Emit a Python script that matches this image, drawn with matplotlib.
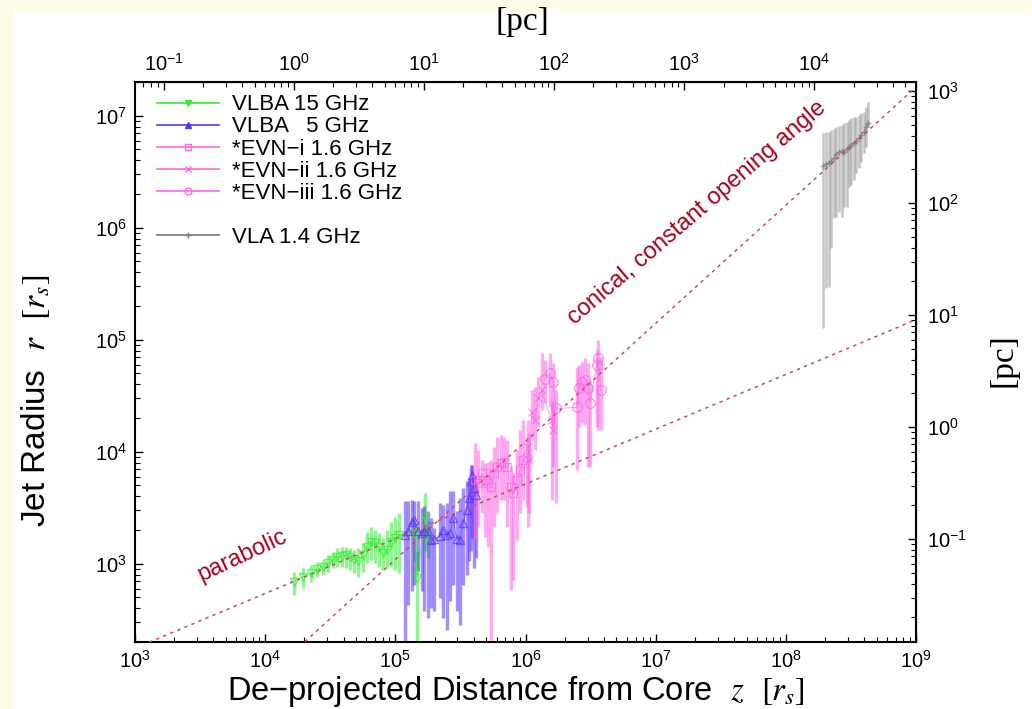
import numpy as np
import matplotlib
matplotlib.use('Agg')
import matplotlib.pyplot as plt
from matplotlib.patches import Rectangle
from matplotlib.lines import Line2D

plt.rcParams['font.family'] = ['Liberation Sans', 'DejaVu Sans']
plt.rcParams['mathtext.fontset'] = 'stix'

PC_IN_RS = 1.66e4

# ---------------- data ----------------
# VLBA 15 GHz
z15 = [16600, 19400, 22400, 25100, 27600, 30200, 33000, 35800, 38700, 41800, 44800, 48100,
       51900, 56100, 60200, 64600, 69700, 75300, 80800, 86700, 92500, 99300, 107000,
       141000, 147000, 169000, 177000]
r15 = [690, 764, 818, 889, 940, 1005, 1077, 1138, 1170, 1194, 1153, 1092, 1062, 1194, 1416,
       1570, 1517, 1416, 1236, 1322, 1570, 1683, 1799, 1845, 746, 2614, 1698]
r15_hi = [847, 908, 973, 1040, 1077, 1194, 1279, 1368, 1416, 1416, 1368, 1322, 1368, 1517, 1928,
          2138, 1995, 1862, 1683, 1995, 2366, 2624, 2812, 2234, 1291, 4285, 2393]
r15_lo = [525, 601, 690, 764, 791, 847, 908, 940, 940, 908, 877, 818, 764, 847, 1005, 1077, 1005,
          940, 877, 908, 940, 877, 818, 1050, 150, 1291, 1125]

# VLBA 5 GHz
z5 = [118600, 125600, 133300, 139700, 150000, 159200, 166800, 177000, 187700, 199000, 220000,
      233000, 247600, 262400, 278600, 295200, 313400, 332500, 352600, 367400, 380900, 390000,
      403600, 413300]
r5 = [1795, 1946, 2362, 2473, 1946, 1880, 1973, 1946, 1641, 1675, 1758, 2014, 1820, 1880, 2560,
      1675, 1641, 2312, 3041, 3862, 5445, 6237, 4742, 4140]
r5_hi = [3606, 3606, 3733, 3606, 3606, 3148, 3258, 2941, 2560, 2084, 3484, 3367, 3484, 4426, 4426,
         2941, 3862, 4742, 5445, 5834, 7674, 7674, 6237, 5445]
r5_lo = [190, 431, 568, 651, 855, 568, 376, 328, 403, 376, 494, 328, 258, 461, 651, 376, 286, 651,
         798, 1050, 1291, 1698, 916, 1125]

# EVN-i 1.6 GHz
zi = [408600, 433500, 460200, 487800, 517600, 539500, 571500, 606600, 644200, 682300, 724400,
      767400, 805400, 853100, 905700, 961600, 1019000]
ri = [5585, 5212, 6397, 5585, 5212, 4864, 6397, 7345, 7852, 8128, 7345, 4864, 4236, 5585, 6855,
      8414, 9016]
ri_hi = [11860, 10330, 8414, 7852, 8128, 8414, 11070, 13590, 14060, 13590, 12700, 7345, 6397,
         10330, 15600, 19140, 13590]
ri_lo = [1626, 2138, 2812, 1742, 1416, 150, 2138, 2812, 3698, 3698, 2138, 581, 714, 1626, 2812,
         3698, 3222]

# EVN-ii 1.6 GHz
zii = [1050000, 1069000, 1114000, 1180000, 1253000, 1330000, 1585000, 1633000]
rii = [11070, 8414, 22750, 19140, 29920, 35480, 19140, 15600]
rii_hi = [19140, 14550, 35480, 38020, 46700, 75340, 28910, 25180]
rii_lo = [2138, 2812, 12700, 10330, 16700, 23490, 3698, 7345]

# EVN-iii 1.6 GHz
ziii = [1410000, 1539000, 1633000, 1714000, 2466000, 2570000, 2698000, 2860000, 3034000,
        3126000, 3519000, 3624000, 3797000]
riii = [44170, 50020, 42100, 24320, 24830, 36730, 42100, 43560, 36730, 27350, 59330, 68080, 35480]
riii_hi = [65750, 75340, 61360, 35480, 57280, 59330, 63530, 68080, 61360, 43560, 80720, 99200,
           70470]
riii_lo = [26980, 25180, 16700, 3451, 6855, 16700, 17870, 17270, 7345, 7345, 16700, 15600, 15600]

# VLA 1.4 GHz
zvla = [1.94e8, 2.03e8, 2.14e8, 2.24e8, 2.34e8, 2.45e8, 2.57e8, 2.68e8, 2.79e8, 2.93e8, 3.07e8,
        3.19e8, 3.33e8, 3.49e8, 3.64e8, 3.79e8, 3.97e8, 4.12e8, 4.29e8]
rvla = [3.55e6, 3.70e6, 3.80e6, 3.94e6, 4.16e6, 4.54e6, 4.76e6, 4.86e6, 4.76e6, 5.00e6, 5.28e6,
        5.47e6, 5.65e6, 5.97e6, 6.26e6, 6.71e6, 7.20e6, 7.96e6, 8.53e6]
rvla_hi = [7.05e6, 7.20e6, 7.20e6, 7.45e6, 7.55e6, 7.96e6, 8.07e6, 8.24e6, 8.53e6, 8.83e6, 9.14e6,
           9.46e6, 9.79e6, 9.79e6, 1.01e7, 1.05e7, 1.08e7, 1.20e7, 1.33e7]
rvla_lo = [1.26e5, 2.87e5, 2.97e5, 6.53e5, 1.21e6, 1.25e6, 1.39e6, 1.25e6, 1.54e6, 1.54e6, 2.32e6,
           2.40e6, 2.66e6, 3.05e6, 3.38e6, 3.88e6, 4.60e6, 5.28e6, 7.96e6]

# model lines (end points)
parab_z = [1e3, 1e9]
parab_r = [176, 1.51e5]
conic_z = [1e4, 1e9]
conic_r = [96, 1.8e7]

# axis tick values
x_ticks = [1e3, 1e4, 1e5, 1e6, 1e7, 1e8, 1e9]
y_ticks = [1e3, 1e4, 1e5, 1e6, 1e7]
pc_top_ticks = [1e-1, 1e0, 1e1, 1e2, 1e3, 1e4]
pc_right_ticks = [1e-1, 1e0, 1e1, 1e2, 1e3]

# ---------------- figure ----------------
fig = plt.figure(figsize=(10.32, 7.09), dpi=100, facecolor='#fefce6')
fig.patches.append(Rectangle((14 / 1032, 0), 1, 1 - 11 / 709, transform=fig.transFigure,
                             facecolor='white', edgecolor='none', zorder=-10))
ax = fig.add_axes([135 / 1032, 1 - 642 / 709, 781 / 1032, 560 / 709])
ax.set_xscale('log')
ax.set_yscale('log')
ax.set_xlim(1e3, 1e9)
ax.set_ylim(200, 2e7)
ax.set_xticks(x_ticks)
ax.set_yticks(y_ticks)

line_red = '#d04a58'
ax.plot(parab_z, parab_r, color=line_red, lw=1.1, ls=(0, (2.2, 2.8)), zorder=5)
ax.plot(conic_z, conic_r, color=line_red, lw=1.1, ls=(0, (2.2, 2.8)), zorder=5)


def series(z, r, lo, hi, color, marker, ms, label, ealpha=0.55, elw=2.4):
    z = np.array(z, float); r = np.array(r, float)
    lo = np.array(lo, float); hi = np.array(hi, float)
    ax.errorbar(z, r, yerr=[r - lo, hi - r], fmt='none', ecolor=color, elinewidth=elw,
                alpha=ealpha, capsize=0, zorder=2)
    ax.plot(z, r, ls='-', lw=0.6, color=color, alpha=0.7, marker=marker, ms=ms,
            mfc='none', mec=color, mew=1.0, zorder=3)
    return Line2D([], [], color=color, lw=1.2, marker=marker, ms=5,
                  mfc=color if marker in ('v', '^') else 'none', mec=color, label=label)


GREEN = '#33ee33'
BLUE = '#5a33ff'
PINK = '#ff66e6'
GREY = '#7a7a7a'

h1 = series(z15, r15, r15_lo, r15_hi, GREEN, 'v', 6, 'VLBA 15 GHz')
h2 = series(z5, r5, r5_lo, r5_hi, BLUE, '^', 6, 'VLBA   5 GHz')
h3 = series(zi, ri, ri_lo, ri_hi, PINK, 's', 6, '*EVN\u2212i 1.6 GHz')
h4 = series(zii, rii, rii_lo, rii_hi, PINK, 'x', 6, '*EVN\u2212ii 1.6 GHz')
h5 = series(ziii, riii, riii_lo, riii_hi, PINK, 'o', 7, '*EVN\u2212iii 1.6 GHz')
h6 = series(zvla, rvla, rvla_lo, rvla_hi, GREY, '+', 5, 'VLA 1.4 GHz', ealpha=0.45, elw=1.8)
blank = Line2D([], [], color='none', label=' ')

leg = ax.legend(handles=[h1, h2, h3, h4, h5, blank, h6], loc='upper left',
                bbox_to_anchor=(0.028, 0.978), frameon=False, fontsize=16,
                handlelength=2.8, handletextpad=0.6, labelspacing=0.05, borderpad=0,
                borderaxespad=0)

# annotations
ax.text(6.7e3, 1170, 'parabolic', color='#a8001e', fontsize=17, rotation=25,
        ha='center', va='center')
ax.text(2.07e7, 1.35e6, 'conical, constant opening angle', color='#a8001e', fontsize=17,
        rotation=40.5, ha='center', va='center')

# labels
ax.set_xlabel('De\u2212projected Distance from Core  $z$  $[r_s]$', fontsize=23.5)
ax.xaxis.set_label_coords(0.488, -0.057)
ax.set_ylabel('Jet Radius  $r$  $[r_s]$', fontsize=24)
ax.yaxis.set_label_coords(-0.106, 0.43)

ax.tick_params(which='both', direction='in', labelsize=14.5)
ax.tick_params(which='major', length=6, width=1)
ax.tick_params(which='minor', length=3.5, width=0.8)
ax.tick_params(axis='x', pad=6)
ax.tick_params(axis='y', pad=6)
for s in ax.spines.values():
    s.set_linewidth(1.5)

secx = ax.secondary_xaxis('top', functions=(lambda z: z / PC_IN_RS, lambda p: p * PC_IN_RS))
secy = ax.secondary_yaxis('right', functions=(lambda z: z / PC_IN_RS, lambda p: p * PC_IN_RS))
secx.set_xticks(pc_top_ticks)
secy.set_yticks(pc_right_ticks)
for sa in (secx, secy):
    sa.tick_params(which='both', direction='in', labelsize=14.5)
    sa.tick_params(which='major', length=6, width=1)
    sa.tick_params(which='minor', length=3.5, width=0.8)
secx.tick_params(pad=5)
secy.tick_params(pad=8)

fig.text(522 / 1032, 1 - 22 / 709, '[pc]', fontsize=24, family='Liberation Serif',
         ha='center', va='center')
fig.text(1003 / 1032, 1 - 360 / 709, '[pc]', fontsize=24, family='Liberation Serif',
         ha='center', va='center', rotation=90)

fig.savefig('out.png', dpi=100, facecolor=fig.get_facecolor())
